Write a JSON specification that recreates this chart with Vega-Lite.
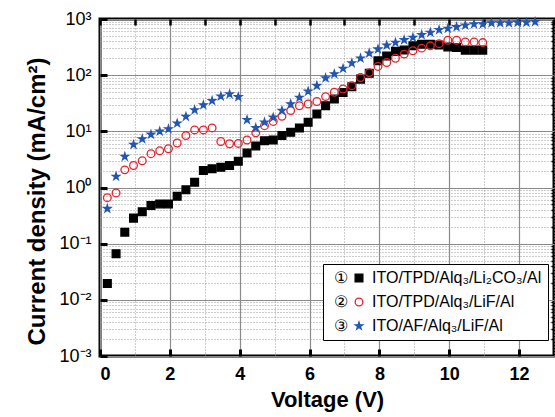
{
  "$schema": "https://vega.github.io/schema/vega-lite/v6.json",
  "width": 454,
  "height": 337,
  "autosize": {"type": "none"},
  "padding": {"left": 100, "top": 19, "right": 1, "bottom": 61},
  "config": {
    "view": {"stroke": "black", "strokeWidth": 3},
    "font": "Liberation Sans",
    "axis": {"domain": false, "labelFont": "Liberation Sans", "titleFont": "Liberation Sans"},
    "legend": {"orient": "none", "legendX": 223, "legendY": 245, "title": null,
      "labelFontSize": 16, "labelFont": "Liberation Sans", "labelColor": "black", "labelLimit": 400, "labelOffset": -33, "symbolOffset": 22,
      "strokeColor": "black", "fillColor": "white", "padding": 6, "rowPadding": 8, "cornerRadius": 0, "symbolStrokeWidth": 1.3}
  },
  "datasets": {
    "pts": [
      {"s": "1", "v": 0.21, "j": 0.0195}, {"s": "1", "v": 0.46, "j": 0.066}, {"s": "1", "v": 0.71, "j": 0.16}, {"s": "1", "v": 0.96, "j": 0.285},
      {"s": "1", "v": 1.21, "j": 0.37}, {"s": "1", "v": 1.46, "j": 0.48}, {"s": "1", "v": 1.71, "j": 0.51}, {"s": "1", "v": 1.96, "j": 0.51},
      {"s": "1", "v": 2.21, "j": 0.70}, {"s": "1", "v": 2.46, "j": 0.91}, {"s": "1", "v": 2.71, "j": 1.24}, {"s": "1", "v": 2.96, "j": 2.0},
      {"s": "1", "v": 3.21, "j": 2.15}, {"s": "1", "v": 3.46, "j": 2.3}, {"s": "1", "v": 3.71, "j": 2.46}, {"s": "1", "v": 3.96, "j": 2.93},
      {"s": "1", "v": 4.21, "j": 4.1}, {"s": "1", "v": 4.46, "j": 5.5}, {"s": "1", "v": 4.71, "j": 6.8}, {"s": "1", "v": 4.96, "j": 7.0},
      {"s": "1", "v": 5.21, "j": 8.4}, {"s": "1", "v": 5.46, "j": 9.6}, {"s": "1", "v": 5.71, "j": 11.5}, {"s": "1", "v": 5.96, "j": 14.5},
      {"s": "1", "v": 6.21, "j": 20.3}, {"s": "1", "v": 6.46, "j": 28.6}, {"s": "1", "v": 6.71, "j": 37.6}, {"s": "1", "v": 6.96, "j": 49},
      {"s": "1", "v": 7.21, "j": 62}, {"s": "1", "v": 7.46, "j": 85}, {"s": "1", "v": 7.71, "j": 108}, {"s": "1", "v": 7.96, "j": 180},
      {"s": "1", "v": 8.21, "j": 220}, {"s": "1", "v": 8.46, "j": 265}, {"s": "1", "v": 8.71, "j": 280}, {"s": "1", "v": 8.96, "j": 333},
      {"s": "1", "v": 9.21, "j": 356}, {"s": "1", "v": 9.46, "j": 356}, {"s": "1", "v": 9.71, "j": 343}, {"s": "1", "v": 9.96, "j": 318},
      {"s": "1", "v": 10.21, "j": 310}, {"s": "1", "v": 10.46, "j": 279}, {"s": "1", "v": 10.71, "j": 279}, {"s": "1", "v": 10.96, "j": 279},
      {"s": "2", "v": 0.21, "j": 0.66}, {"s": "2", "v": 0.46, "j": 0.8}, {"s": "2", "v": 0.71, "j": 2.06}, {"s": "2", "v": 0.96, "j": 2.46},
      {"s": "2", "v": 1.21, "j": 3.0}, {"s": "2", "v": 1.46, "j": 4.0}, {"s": "2", "v": 1.71, "j": 4.5}, {"s": "2", "v": 1.96, "j": 4.9},
      {"s": "2", "v": 2.21, "j": 6.2}, {"s": "2", "v": 2.46, "j": 8.4}, {"s": "2", "v": 2.71, "j": 10.6}, {"s": "2", "v": 2.96, "j": 10.6},
      {"s": "2", "v": 3.21, "j": 11.5}, {"s": "2", "v": 3.46, "j": 6.6}, {"s": "2", "v": 3.71, "j": 6.0}, {"s": "2", "v": 3.96, "j": 6.1},
      {"s": "2", "v": 4.21, "j": 7.0}, {"s": "2", "v": 4.46, "j": 9.4}, {"s": "2", "v": 4.71, "j": 12.6}, {"s": "2", "v": 4.96, "j": 15},
      {"s": "2", "v": 5.21, "j": 18.5}, {"s": "2", "v": 5.46, "j": 23.4}, {"s": "2", "v": 5.71, "j": 28.6}, {"s": "2", "v": 5.96, "j": 30.7},
      {"s": "2", "v": 6.21, "j": 34}, {"s": "2", "v": 6.46, "j": 41.5}, {"s": "2", "v": 6.71, "j": 49.6}, {"s": "2", "v": 6.96, "j": 56.6},
      {"s": "2", "v": 7.21, "j": 65}, {"s": "2", "v": 7.46, "j": 91}, {"s": "2", "v": 7.71, "j": 111}, {"s": "2", "v": 7.96, "j": 143},
      {"s": "2", "v": 8.21, "j": 168}, {"s": "2", "v": 8.46, "j": 200}, {"s": "2", "v": 8.71, "j": 237}, {"s": "2", "v": 8.96, "j": 272},
      {"s": "2", "v": 9.21, "j": 303}, {"s": "2", "v": 9.46, "j": 333}, {"s": "2", "v": 9.71, "j": 364}, {"s": "2", "v": 9.96, "j": 419},
      {"s": "2", "v": 10.21, "j": 419}, {"s": "2", "v": 10.46, "j": 391}, {"s": "2", "v": 10.71, "j": 391}, {"s": "2", "v": 10.96, "j": 380},
      {"s": "3", "v": 0.21, "j": 0.42}, {"s": "3", "v": 0.46, "j": 1.57}, {"s": "3", "v": 0.71, "j": 3.55}, {"s": "3", "v": 0.96, "j": 5.8},
      {"s": "3", "v": 1.21, "j": 7.3}, {"s": "3", "v": 1.46, "j": 8.8}, {"s": "3", "v": 1.71, "j": 10}, {"s": "3", "v": 1.96, "j": 11},
      {"s": "3", "v": 2.21, "j": 13.9}, {"s": "3", "v": 2.46, "j": 18.3}, {"s": "3", "v": 2.71, "j": 24}, {"s": "3", "v": 2.96, "j": 29.4},
      {"s": "3", "v": 3.21, "j": 35}, {"s": "3", "v": 3.46, "j": 42}, {"s": "3", "v": 3.71, "j": 46}, {"s": "3", "v": 3.96, "j": 41},
      {"s": "3", "v": 4.21, "j": 16}, {"s": "3", "v": 4.46, "j": 11.5}, {"s": "3", "v": 4.71, "j": 14.5}, {"s": "3", "v": 4.96, "j": 17.7},
      {"s": "3", "v": 5.21, "j": 23.4}, {"s": "3", "v": 5.46, "j": 30.7}, {"s": "3", "v": 5.71, "j": 40}, {"s": "3", "v": 5.96, "j": 51.5},
      {"s": "3", "v": 6.21, "j": 65}, {"s": "3", "v": 6.46, "j": 89}, {"s": "3", "v": 6.71, "j": 105}, {"s": "3", "v": 6.96, "j": 131},
      {"s": "3", "v": 7.21, "j": 164}, {"s": "3", "v": 7.46, "j": 200}, {"s": "3", "v": 7.71, "j": 246}, {"s": "3", "v": 7.96, "j": 290},
      {"s": "3", "v": 8.21, "j": 341}, {"s": "3", "v": 8.46, "j": 380}, {"s": "3", "v": 8.71, "j": 424}, {"s": "3", "v": 8.96, "j": 468},
      {"s": "3", "v": 9.21, "j": 522}, {"s": "3", "v": 9.46, "j": 575}, {"s": "3", "v": 9.71, "j": 640}, {"s": "3", "v": 9.96, "j": 675},
      {"s": "3", "v": 10.21, "j": 722}, {"s": "3", "v": 10.46, "j": 775}, {"s": "3", "v": 10.71, "j": 810}, {"s": "3", "v": 10.96, "j": 810},
      {"s": "3", "v": 11.21, "j": 850}, {"s": "3", "v": 11.46, "j": 850}, {"s": "3", "v": 11.71, "j": 850}, {"s": "3", "v": 11.96, "j": 870},
      {"s": "3", "v": 12.21, "j": 870}, {"s": "3", "v": 12.46, "j": 890}
    ]
  },
  "data": {"name": "pts"},
  "resolve": {"axis": {"x": "independent", "y": "independent"}},
  "layer": [
    {
      "mark": {"type": "point", "opacity": 0},
      "encoding": {
        "x": {"field": "v", "type": "quantitative", "scale": {"domain": [0, 13], "nice": false, "zero": false},
          "axis": {"orient": "top", "values": [0,1,2,3,4,5,6,7,8,9,10,11,12,13], "labels": false, "title": null, "grid": true,
            "gridColor": "#9a9a9a", "gridDash": [1, 2], "gridWidth": 1, "ticks": true, "tickSize": -6, "tickWidth": 2.5, "tickColor": "black", "zindex": 0}},
        "y": {"field": "j", "type": "quantitative", "scale": {"type": "log", "domain": [0.001, 1000], "nice": false},
          "axis": {"orient": "right", "values": [0.002,0.003,0.004,0.005,0.006,0.007,0.008,0.009,0.02,0.03,0.04,0.05,0.06,0.07,0.08,0.09,0.2,0.3,0.4,0.5,0.6,0.7,0.8,0.9,2,3,4,5,6,7,8,9,20,30,40,50,60,70,80,90,200,300,400,500,600,700,800,900],
            "labels": false, "title": null, "grid": true, "gridColor": "#9a9a9a", "gridDash": [1, 2], "gridWidth": 1,
            "ticks": true, "tickSize": -3, "tickWidth": 1.5, "tickColor": "black", "zindex": 0}}
      }
    },
    {
      "mark": {"type": "point", "opacity": 0},
      "encoding": {
        "x": {"field": "v", "type": "quantitative", "scale": {"domain": [0, 13], "nice": false, "zero": false},
          "axis": {"orient": "bottom", "values": [0,2,4,6,8,10,12], "grid": true, "gridColor": "#8a8a8a", "gridWidth": 1.2,
            "ticks": true, "tickSize": -7, "tickWidth": 3, "tickColor": "black",
            "labelFontSize": 18, "labelFontWeight": "bold", "labelColor": "black", "labelPadding": 16,
            "title": "Voltage (V)", "titleFontSize": 22, "titleFontWeight": "bold", "titleColor": "black", "titlePadding": 6, "zindex": 0}},
        "y": {"field": "j", "type": "quantitative", "scale": {"type": "log", "domain": [0.001, 1000], "nice": false},
          "axis": {"orient": "left", "values": [0.001,0.01,0.1,1,10,100,1000], "grid": true, "gridColor": "#8a8a8a", "gridWidth": 1.2,
            "ticks": true, "tickSize": -7, "tickWidth": 3, "tickColor": "black",
            "labelExpr": "datum.value < 0.005 ? '10⁻³' : datum.value < 0.05 ? '10⁻²' : datum.value < 0.5 ? '10⁻¹' : datum.value < 5 ? '10⁰' : datum.value < 50 ? '10¹' : datum.value < 500 ? '10²' : '10³'",
            "labelFontSize": 18, "labelColor": "black", "labelPadding": 16,
            "title": "Current density (mA/cm²)", "titleFontSize": 24, "titleFontWeight": "bold", "titleColor": "black", "titlePadding": 9, "titleY": 182, "zindex": 0}}
      }
    },
    {
      "mark": {"type": "point", "strokeWidth": 1.3, "opacity": 1},
      "encoding": {
        "x": {"field": "v", "type": "quantitative", "scale": {"domain": [0, 13], "nice": false, "zero": false}, "axis": null},
        "y": {"field": "j", "type": "quantitative", "scale": {"type": "log", "domain": [0.001, 1000], "nice": false}, "axis": null},
        "shape": {"field": "s", "type": "nominal",
          "scale": {"domain": ["1","2","3"], "range": ["square", "circle", "M0,-1L0.2245,-0.309L0.951,-0.309L0.363,0.118L0.588,0.809L0,0.382L-0.588,0.809L-0.363,0.118L-0.951,-0.309L-0.2245,-0.309Z"]},
          "legend": {"labelExpr": "datum.label == '1' ? '①\u2003\u2002ITO/TPD/Alq₃/Li₂CO₃/Al' : datum.label == '2' ? '②\u2003\u2002ITO/TPD/Alq₃/LiF/Al' : '③\u2003\u2002ITO/AF/Alq₃/LiF/Al'"}},
        "fill": {"field": "s", "type": "nominal", "scale": {"domain": ["1","2","3"], "range": ["black", "transparent", "#2356b0"]},
          "legend": {"labelExpr": "datum.label == '1' ? '①\u2003\u2002ITO/TPD/Alq₃/Li₂CO₃/Al' : datum.label == '2' ? '②\u2003\u2002ITO/TPD/Alq₃/LiF/Al' : '③\u2003\u2002ITO/AF/Alq₃/LiF/Al'"}},
        "stroke": {"field": "s", "type": "nominal", "scale": {"domain": ["1","2","3"], "range": ["black", "#e8202a", "#2356b0"]},
          "legend": {"labelExpr": "datum.label == '1' ? '①\u2003\u2002ITO/TPD/Alq₃/Li₂CO₃/Al' : datum.label == '2' ? '②\u2003\u2002ITO/TPD/Alq₃/LiF/Al' : '③\u2003\u2002ITO/AF/Alq₃/LiF/Al'"}},
        "size": {"field": "s", "type": "nominal", "scale": {"domain": ["1","2","3"], "range": [60, 58, 120]},
          "legend": {"labelExpr": "datum.label == '1' ? '①\u2003\u2002ITO/TPD/Alq₃/Li₂CO₃/Al' : datum.label == '2' ? '②\u2003\u2002ITO/TPD/Alq₃/LiF/Al' : '③\u2003\u2002ITO/AF/Alq₃/LiF/Al'"}}
      }
    }
  ]
}
